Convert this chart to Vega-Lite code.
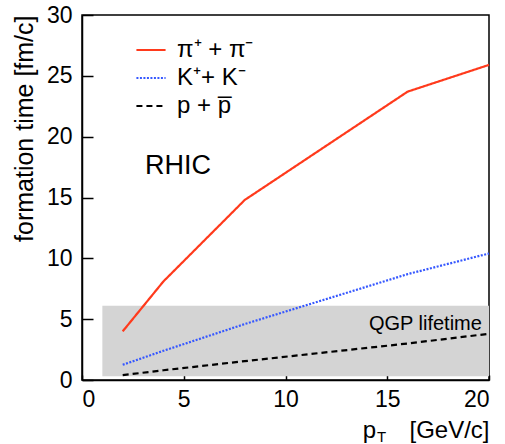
{
  "$schema": "https://vega.github.io/schema/vega-lite/v6.json",
  "autosize": "none",
  "width": 407,
  "height": 365,
  "padding": {"left": 82, "top": 15, "right": 16, "bottom": 64},
  "background": "white",
  "config": {
    "font": "Liberation Sans",
    "view": {"stroke": "black", "strokeWidth": 1.5},
    "axis": {"grid": false, "domainColor": "black", "domainWidth": 1.5, "tickColor": "black", "tickWidth": 1.5, "labelColor": "black", "titleColor": "black", "labelFont": "Liberation Sans", "titleFont": "Liberation Sans", "labelFontSize": 23, "titleFontWeight": "normal"}
  },
  "datasets": {
    "band": [{"x1": 1, "x2": 20, "y1": 0.3, "y2": 6.1}],
    "curves": [
      {"pT": 2, "t": 4.0, "series": "π⁺ + π⁻"},
      {"pT": 4, "t": 8.1, "series": "π⁺ + π⁻"},
      {"pT": 8, "t": 14.8, "series": "π⁺ + π⁻"},
      {"pT": 16, "t": 23.7, "series": "π⁺ + π⁻"},
      {"pT": 20, "t": 25.9, "series": "π⁺ + π⁻"},
      {"pT": 2, "t": 1.25, "series": "K⁺+ K⁻"},
      {"pT": 4, "t": 2.4, "series": "K⁺+ K⁻"},
      {"pT": 8, "t": 4.6, "series": "K⁺+ K⁻"},
      {"pT": 16, "t": 8.7, "series": "K⁺+ K⁻"},
      {"pT": 20, "t": 10.4, "series": "K⁺+ K⁻"},
      {"pT": 2, "t": 0.4, "series": "p + p̅"},
      {"pT": 4, "t": 0.8, "series": "p + p̅"},
      {"pT": 8, "t": 1.55, "series": "p + p̅"},
      {"pT": 16, "t": 3.0, "series": "p + p̅"},
      {"pT": 20, "t": 3.8, "series": "p + p̅"}
    ],
    "qgp": [{"x": 19.65, "y": 4.1, "label": "QGP lifetime"}],
    "rhic": [{"x": 3.1, "y": 16.9, "label": "RHIC"}],
    "sub": [{"x": 14.5, "y": -5.1, "label": "T"}]
  },
  "layer": [
    {
      "data": {"name": "band"},
      "mark": {"type": "rect", "fill": "#d4d4d4", "stroke": null},
      "encoding": {
        "x": {"field": "x1", "type": "quantitative", "scale": {"domain": [0, 20], "nice": false},
          "axis": {"values": [0, 5, 10, 15, 20], "tickSize": -5, "labelPadding": 13, "title": "p\u00a0\u00a0\u00a0\u00a0\u00a0[GeV/c]", "titleX": 407, "titleY": 57, "titleAlign": "right", "titleBaseline": "alphabetic", "titleFontSize": 24}},
        "x2": {"field": "x2"},
        "y": {"field": "y1", "type": "quantitative", "scale": {"domain": [0, 30], "nice": false},
          "axis": {"values": [0, 5, 10, 15, 20, 25, 30], "tickSize": -11, "labelPadding": 21, "title": "formation time [fm/c]", "titleAnchor": "end", "titlePadding": 9, "titleFontSize": 25}},
        "y2": {"field": "y2"}
      }
    },
    {
      "data": {"name": "curves"},
      "mark": {"type": "line", "strokeWidth": 2.2},
      "encoding": {
        "x": {"field": "pT", "type": "quantitative"},
        "y": {"field": "t", "type": "quantitative"},
        "color": {"field": "series", "type": "nominal",
          "scale": {"domain": ["π⁺ + π⁻", "K⁺+ K⁻", "p + p̅"], "range": ["#ff3a1c", "#3658ff", "#000000"]},
          "legend": {"orient": "none", "legendX": 53, "legendY": 19, "title": null, "labelFontSize": 24, "labelFont": "Liberation Sans", "labelColor": "black", "symbolType": "stroke", "symbolSize": 850, "symbolStrokeWidth": 2.2, "rowPadding": -3, "labelOffset": 10}},
        "strokeDash": {"field": "series", "type": "nominal",
          "scale": {"domain": ["π⁺ + π⁻", "K⁺+ K⁻", "p + p̅"], "range": [[1, 0], [2, 1.5], [6, 4]]},
          "legend": {"orient": "none", "legendX": 53, "legendY": 19, "title": null, "labelFontSize": 24, "labelFont": "Liberation Sans", "labelColor": "black", "symbolType": "stroke", "symbolSize": 850, "symbolStrokeWidth": 2.2, "rowPadding": -3, "labelOffset": 10}}
      }
    },
    {
      "data": {"name": "qgp"},
      "mark": {"type": "text", "font": "Liberation Sans", "color": "black", "fontSize": 20, "align": "right", "baseline": "alphabetic"},
      "encoding": {
        "x": {"field": "x", "type": "quantitative"},
        "y": {"field": "y", "type": "quantitative"},
        "text": {"field": "label"}
      }
    },
    {
      "data": {"name": "rhic"},
      "mark": {"type": "text", "font": "Liberation Sans", "color": "black", "fontSize": 27, "align": "left", "baseline": "alphabetic"},
      "encoding": {
        "x": {"field": "x", "type": "quantitative"},
        "y": {"field": "y", "type": "quantitative"},
        "text": {"field": "label"}
      }
    },
    {
      "data": {"name": "sub"},
      "mark": {"type": "text", "font": "Liberation Sans", "color": "black", "fontSize": 15, "align": "left", "baseline": "alphabetic", "clip": false},
      "encoding": {
        "x": {"field": "x", "type": "quantitative"},
        "y": {"field": "y", "type": "quantitative"},
        "text": {"field": "label"}
      }
    }
  ]
}
